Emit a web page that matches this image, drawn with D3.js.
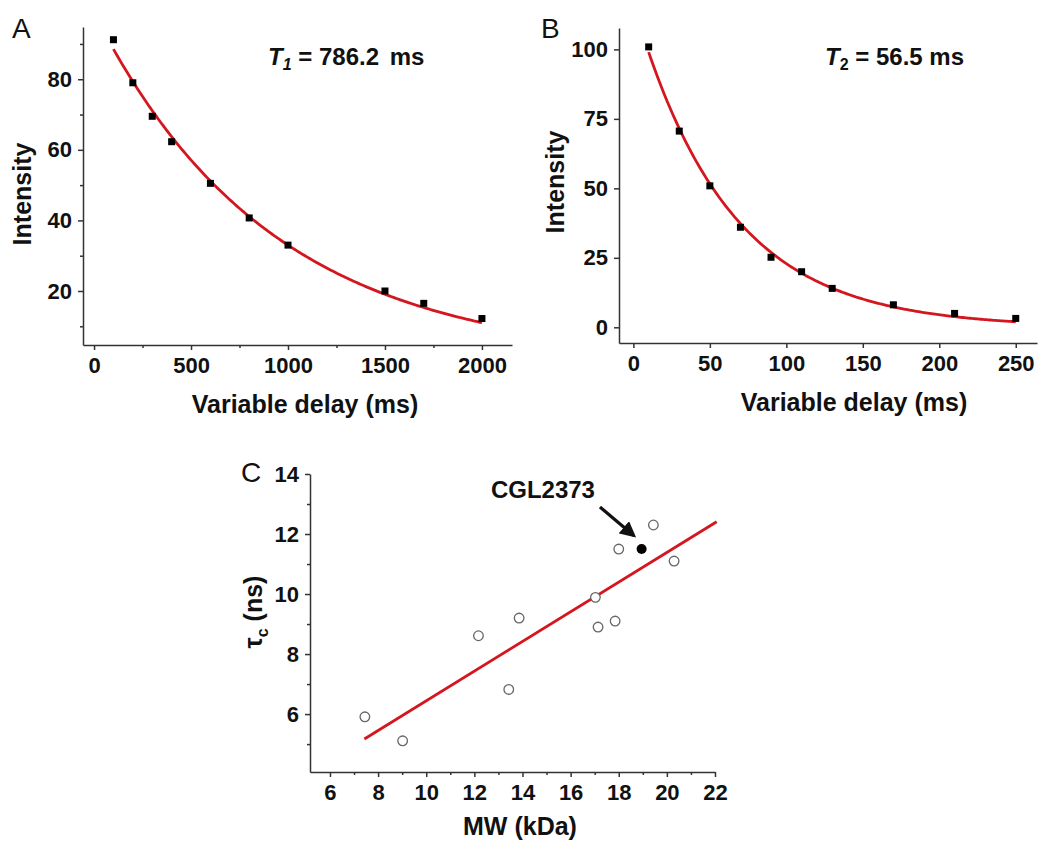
<!DOCTYPE html>
<html>
<head>
  <meta charset="utf-8">
  <title>Relaxation and correlation time</title>
  <script src="https://cdn.jsdelivr.net/npm/d3@7"></script>
  <style>
    html, body { margin: 0; padding: 0; background: #fff; }
    svg { display: block; font-family: "Liberation Sans", Arial, sans-serif; }
    .axis path, .axis line { stroke: #333; stroke-width: 1.5px; }
    .title { font-size: 25px; font-weight: bold; fill: #111; }
    .panel { font-size: 28px; fill: #111; }
    .note { font-size: 24px; font-weight: bold; fill: #111; }
  </style>
</head>
<body>
<svg id="chart" width="1039" height="841"></svg>
<script>

// --- data ---
// A: T1 decay
var delayA = [100, 200, 300, 400, 600, 800, 1000, 1500, 1700, 2000];
var intenA = [91.2, 79, 69.5, 62.3, 50.5, 40.7, 33, 20, 16.5, 12.2];
var fitA   = { amp: 98.8, tau: 912, from: 100, to: 2000 };   // drawn curve y = amp*exp(-x/tau)

// B: T2 decay
var delayB = [10, 30, 50, 70, 90, 110, 130, 170, 210, 250];
var intenB = [100.9, 70.6, 50.9, 36, 25.2, 20, 14, 8.1, 5, 3.2];
var fitB   = { amp: 116.5, tau: 61.5, from: 10, to: 250 };

// C: correlation time vs molecular weight
var mwC  = [7.45, 9.02, 12.17, 13.43, 13.86, 17.03, 17.14, 17.85, 18.0, 19.44, 20.3];
var tauC = [5.91, 5.11, 8.61, 6.82, 9.2, 9.89, 8.9, 9.1, 11.5, 12.3, 11.1];
var cglMW = 18.95, cglTau = 11.5;
var lineC = { slope: 0.4945, icept: 1.496, from: 7.43, to: 22.07 };

var ticksAx = [0, 500, 1000, 1500, 2000], minorAx = [250, 750, 1250, 1750];
var ticksAy = [20, 40, 60, 80],           minorAy = [10, 30, 50, 70, 90];
var ticksBx = [0, 50, 100, 150, 200, 250];
var ticksBy = [0, 25, 50, 75, 100];
var ticksCx = [6, 8, 10, 12, 14, 16, 18, 20, 22], minorCx = [7, 9, 11, 13, 15, 17, 19, 21];
var ticksCy = [6, 8, 10, 12, 14],                 minorCy = [5, 7, 9, 11, 13];

var RED = "#d4171f";
var svg = d3.select("#chart");

svg.append("defs").append("marker")
  .attr("id", "arrow").attr("viewBox", "0 0 10 10")
  .attr("refX", 8).attr("refY", 5)
  .attr("markerWidth", 5).attr("markerHeight", 5)
  .attr("orient", "auto")
  .append("path").attr("d", "M0,0 L10,5 L0,10 z").attr("fill", "#111");

// draws spines + major/minor ticks for one panel
function drawAxes(p) {
  var fmt = d3.format("d");
  var gx = svg.append("g").attr("class", "axis")
    .attr("transform", "translate(0," + p.y.range()[0] + ")")
    .call(d3.axisBottom(p.x).tickValues(p.xt).tickFormat(fmt).tickSize(5).tickPadding(7).tickSizeOuter(0));
  var gy = svg.append("g").attr("class", "axis")
    .attr("transform", "translate(" + p.x.range()[0] + ",0)")
    .call(d3.axisLeft(p.y).tickValues(p.yt).tickFormat(fmt).tickSize(5).tickPadding(6).tickSizeOuter(0));
  [gx, gy].forEach(function (g) {
    g.attr("font-size", null).attr("font-family", null);
    g.selectAll("text").attr("font-size", "22px").attr("font-weight", "bold").attr("fill", "#111");
  });
  if (p.xm) svg.append("g").attr("class", "axis")
    .attr("transform", "translate(0," + p.y.range()[0] + ")")
    .call(d3.axisBottom(p.x).tickValues(p.xm).tickSize(3).tickFormat("").tickSizeOuter(0))
    .select(".domain").remove();
  if (p.ym) svg.append("g").attr("class", "axis")
    .attr("transform", "translate(" + p.x.range()[0] + ",0)")
    .call(d3.axisLeft(p.y).tickValues(p.ym).tickSize(3).tickFormat("").tickSizeOuter(0))
    .select(".domain").remove();
}

function fitLine(x, y, f) {
  var xs = d3.range(f.from, f.to + 1e-9, (f.to - f.from) / 200);
  return d3.line().x(function (d) { return x(d); })
    .y(function (d) { return y(f.amp * Math.exp(-d / f.tau)); })(xs);
}

function squares(x, y, xs, ys) {
  svg.append("g").selectAll("rect").data(xs).join("rect")
    .attr("x", function (d) { return x(d) - 3.5; })
    .attr("y", function (d, i) { return y(ys[i]) - 3.5; })
    .attr("width", 7).attr("height", 7).attr("fill", "#000");
}

// ---------- Panel A ----------
var xA = d3.scaleLinear().domain([-57, 2155]).range([83, 512]);
var yA = d3.scaleLinear().domain([4.7, 94.8]).range([345, 27]);
drawAxes({ x: xA, y: yA, xt: ticksAx, yt: ticksAy, xm: minorAx, ym: minorAy });
svg.append("path").attr("d", fitLine(xA, yA, fitA))
  .attr("fill", "none").attr("stroke", RED).attr("stroke-width", 2.8);
squares(xA, yA, delayA, intenA);
svg.append("text").attr("class", "panel").attr("x", 12).attr("y", 38).text("A");
svg.append("text").attr("class", "title").attr("x", 305).attr("y", 413)
  .attr("text-anchor", "middle").text("Variable delay (ms)");
svg.append("text").attr("class", "title").attr("text-anchor", "middle")
  .attr("transform", "translate(31,194) rotate(-90)").text("Intensity");
var tA = svg.append("text").attr("class", "note").attr("x", 268).attr("y", 65);
tA.append("tspan").attr("font-style", "italic").text("T");
tA.append("tspan").attr("font-style", "italic").attr("font-size", "16px").attr("dy", 5).text("1");
tA.append("tspan").attr("dy", -5).text(" = 786.2 ");
tA.append("tspan").attr("dx", 4).text("ms");

// ---------- Panel B ----------
var xB = d3.scaleLinear().domain([-9.4, 263.9]).range([619, 1037]);
var yB = d3.scaleLinear().domain([-5.65, 107.7]).range([343, 28]);
drawAxes({ x: xB, y: yB, xt: ticksBx, yt: ticksBy });
svg.append("path").attr("d", fitLine(xB, yB, fitB))
  .attr("fill", "none").attr("stroke", RED).attr("stroke-width", 2.8);
squares(xB, yB, delayB, intenB);
svg.append("text").attr("class", "panel").attr("x", 541).attr("y", 38).text("B");
svg.append("text").attr("class", "title").attr("x", 854).attr("y", 411)
  .attr("text-anchor", "middle").text("Variable delay (ms)");
svg.append("text").attr("class", "title").attr("text-anchor", "middle")
  .attr("transform", "translate(564,182) rotate(-90)").text("Intensity");
var tB = svg.append("text").attr("class", "note").attr("x", 825).attr("y", 65);
tB.append("tspan").attr("font-style", "italic").text("T");
tB.append("tspan").attr("font-size", "16px").attr("dy", 5).text("2");
tB.append("tspan").attr("dy", -5).text(" = 56.5 ms");

// ---------- Panel C ----------
var xC = d3.scaleLinear().domain([5.17, 22]).range([310, 715]);
var yC = d3.scaleLinear().domain([4.07, 14]).range([772, 474]);
drawAxes({ x: xC, y: yC, xt: ticksCx, yt: ticksCy, xm: minorCx, ym: minorCy });
svg.append("line")
  .attr("x1", xC(lineC.from)).attr("y1", yC(lineC.slope * lineC.from + lineC.icept))
  .attr("x2", xC(lineC.to)).attr("y2", yC(lineC.slope * lineC.to + lineC.icept))
  .attr("stroke", RED).attr("stroke-width", 2.8);
svg.append("g").selectAll("circle").data(mwC).join("circle")
  .attr("cx", function (d) { return xC(d); })
  .attr("cy", function (d, i) { return yC(tauC[i]); })
  .attr("r", 4.8).attr("fill", "#fff").attr("stroke", "#666").attr("stroke-width", 1.3);
svg.append("circle").attr("cx", xC(cglMW)).attr("cy", yC(cglTau)).attr("r", 5).attr("fill", "#000");
svg.append("text").attr("class", "note").attr("font-size", "25px").attr("x", xC(14.85)).attr("y", yC(13.2))
  .attr("text-anchor", "middle").text("CGL2373");
svg.append("line")
  .attr("x1", xC(17.22)).attr("y1", yC(12.9)).attr("x2", xC(18.62)).attr("y2", yC(11.95))
  .attr("stroke", "#111").attr("stroke-width", 3.2).attr("marker-end", "url(#arrow)");
svg.append("text").attr("class", "panel").attr("x", 241).attr("y", 482).text("C");
svg.append("text").attr("class", "title").attr("x", 520).attr("y", 835)
  .attr("text-anchor", "middle").text("MW (kDa)");
var tC = svg.append("text").attr("class", "title").attr("text-anchor", "middle")
  .attr("transform", "translate(262,612) rotate(-90)");
tC.append("tspan").text("τ");
tC.append("tspan").attr("font-size", "16px").attr("dy", 6).text("c");
tC.append("tspan").attr("dy", -6).text(" (ns)");

</script>
</body>
</html>
